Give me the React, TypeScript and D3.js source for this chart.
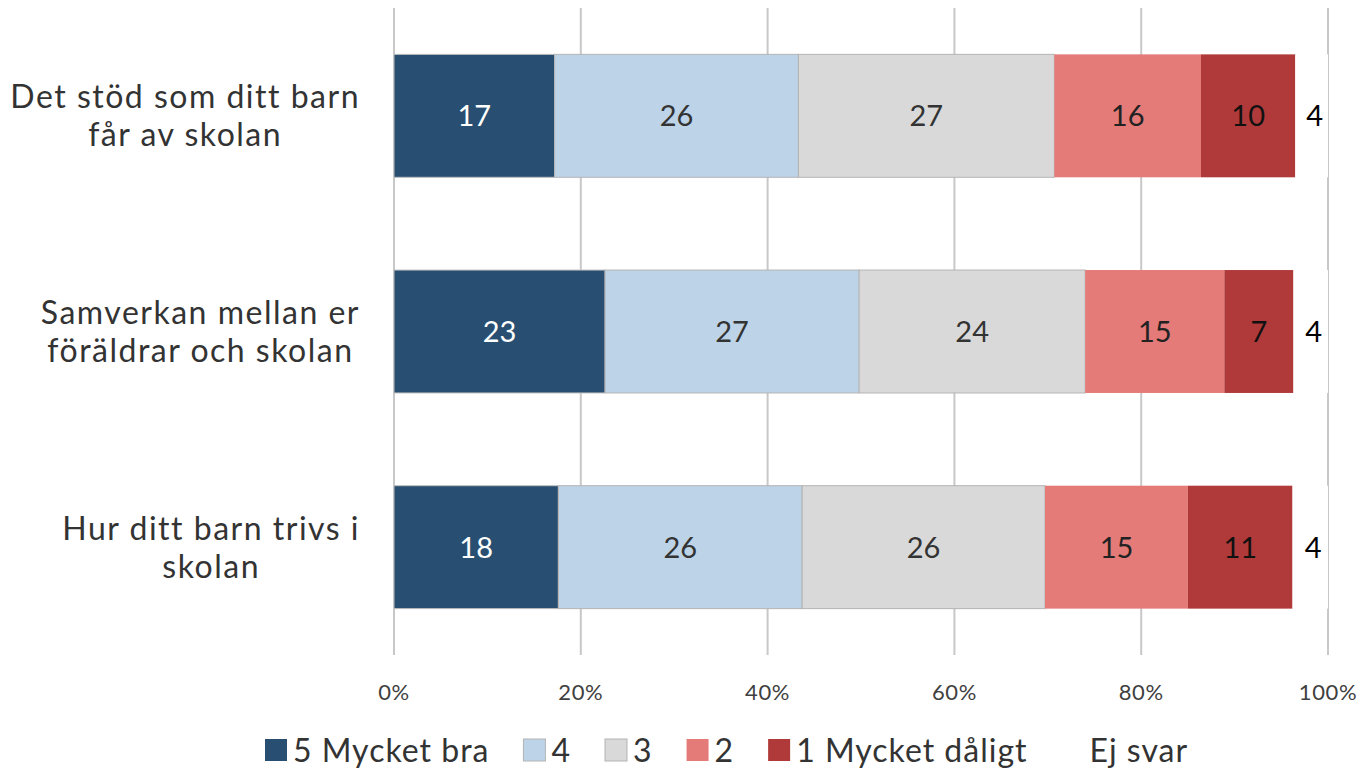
import React, { useEffect, useRef } from "react";
import * as d3 from "d3";

const categories = [
  ["Det stöd som ditt barn", "får av skolan"],
  ["Samverkan mellan er", "föräldrar och skolan"],
  ["Hur ditt barn trivs i", "skolan"],
];
const seriesNames = ["5 Mycket bra", "4", "3", "2", "1 Mycket dåligt", "Ej svar"];
const seriesColors = ["#284f72", "#bcd3e8", "#d9d9d9", "#e57b78", "#b03a3a", "#ffffff"];
const seriesStroke = ["#bfbfbf", "#b4b4b4", "#b4b4b4", "none", "none", "none"];
const labelColors = ["#ffffff", "#333333", "#333333", "#222222", "#111111", "#000000"];
const values = [
  [17.2, 26.1, 27.4, 15.7, 10.1, 3.5],
  [22.6, 27.2, 24.2, 14.9, 7.4, 3.7],
  [17.6, 26.1, 26.0, 15.3, 11.2, 3.8],
];
const tickValues = [0, 20, 40, 60, 80, 100];

const FONT = "Lato, 'Open Sans', sans-serif";

export default function App() {
  const ref = useRef<SVGSVGElement>(null);
  useEffect(() => {
    const svg = d3.select(ref.current);
    svg.selectAll("*").remove();
    const x = d3.scaleLinear().domain([0, 100]).range([394, 1328]);
    const y = d3.scaleBand<number>().domain(categories.map((_, i) => i)).range([8, 655]).paddingInner(0.43).paddingOuter(0.215);

    // gridlines
    svg.append("g").selectAll("line").data(tickValues).join("line")
      .attr("x1", (d) => x(d)).attr("x2", (d) => x(d))
      .attr("y1", 8).attr("y2", 655)
      .attr("stroke", "#c8c8c8").attr("stroke-width", 2);

    // tick labels
    svg.append("g").selectAll("text").data(tickValues).join("text")
      .attr("x", (d) => x(d)).attr("y", 700)
      .attr("text-anchor", "middle")
      .attr("font-family", FONT).attr("font-size", 22).attr("letter-spacing", 0.6).attr("fill", "#404040")
      .text((d) => d + "%");

    // bars
    values.forEach((row, ri) => {
      let acc = 0;
      const g = svg.append("g");
      row.forEach((v, si) => {
        const x0 = x(acc);
        const x1 = x(acc + v);
        acc += v;
        g.append("rect")
          .attr("x", x0).attr("y", y(ri)!)
          .attr("width", x1 - x0).attr("height", y.bandwidth())
          .attr("fill", seriesColors[si])
          .attr("stroke", seriesStroke[si]).attr("stroke-width", 1);
      });
      acc = 0;
      row.forEach((v, si) => {
        const cx = x(acc + v / 2);
        acc += v;
        g.append("text")
          .attr("x", si === 5 ? cx + 3 : cx).attr("y", y(ri)! + y.bandwidth() / 2)
          .attr("dy", "0.36em").attr("text-anchor", "middle")
          .attr("font-family", FONT).attr("font-size", 29)
          .attr("fill", labelColors[si])
          .text(Math.round(v));
      });
    });

    // category labels: block right-aligned at 360, lines centered within block
    categories.forEach((lines, ri) => {
      const cy = y(ri)! + y.bandwidth() / 2;
      const g = svg.append("g");
      const texts = lines.map((l, li) =>
        g.append("text").attr("font-family", FONT).attr("font-size", 32).attr("letter-spacing", 1.5)
          .attr("fill", "#333333")
          .attr("text-anchor", "middle")
          .attr("y", cy + (li - (lines.length - 1) / 2) * 38).attr("dy", "0.36em").text(l)
      );
      const widths = texts.map((t) => (t.node() as SVGTextElement).getComputedTextLength());
      const maxW = Math.max(...widths);
      const center = 360 - maxW / 2;
      texts.forEach((t) => t.attr("x", center));
    });

    // legend
    const lg = svg.append("g");
    let lx = 265;
    const ly = 750;
    seriesNames.forEach((name, si) => {
      const sw = lg.append("rect").attr("x", lx).attr("y", ly - 11).attr("width", 22).attr("height", 22)
        .attr("fill", seriesColors[si]);
      if (si === 1 || si === 2) sw.attr("stroke", "#b4b4b4").attr("stroke-width", 1);
      const t = lg.append("text").attr("x", lx + 28).attr("y", ly).attr("dy", "0.36em")
        .attr("font-family", FONT).attr("font-size", 32).attr("letter-spacing", 1).attr("fill", "#333333").text(name);
      const w = (t.node() as SVGTextElement).getComputedTextLength();
      lx = lx + 28 + w + 34;
    });
  }, []);
  return (
    <svg ref={ref} width={1365} height={772}
      style={{ position: "absolute", left: 0, top: 0, display: "block", background: "#fff" }} />
  );
}
